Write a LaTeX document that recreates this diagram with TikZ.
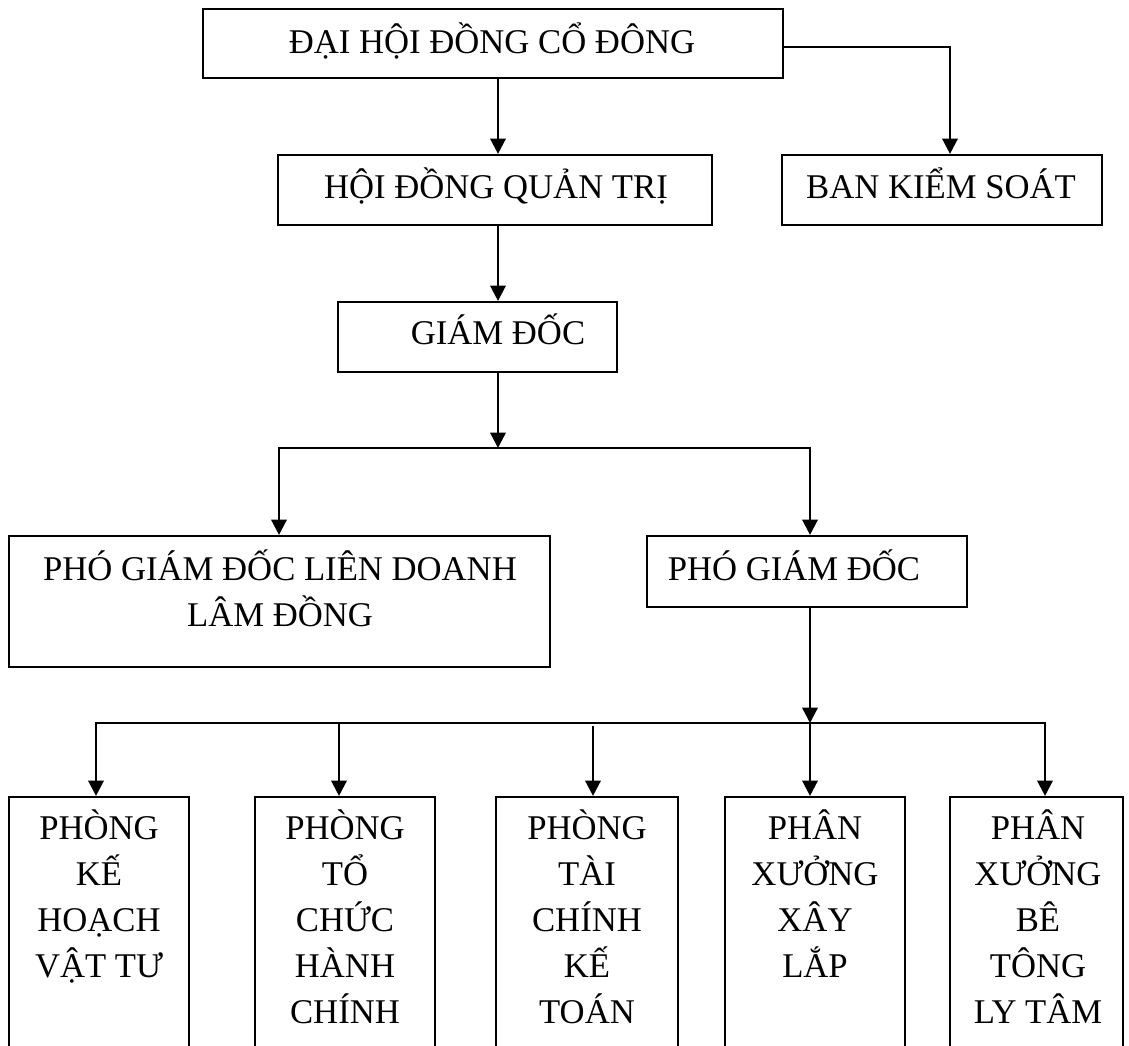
\documentclass[tikz,border=0pt]{standalone}
\usepackage{fontspec}
\setmainfont{Liberation Serif}
\usetikzlibrary{arrows.meta,fit}
\tikzset{
  boxnode/.style={draw, line width=1.6pt, inner sep=0pt, rectangle},
  txt/.style={inner sep=0pt, anchor=base, font=\fontsize{26pt}{34pt}\selectfont},
  arr/.style={line width=1.8pt, -{Triangle[length=11.5pt,width=11.5pt]}}
}
\begin{document}
\begin{tikzpicture}[x=0.75pt,y=-0.75pt]
\useasboundingbox (0,0) rectangle (1129,1046);
\clip (0,0) rectangle (1129,1046);
% boxes
\node[boxnode, fit={(203,9) (783,78)}] (top) {};
\node[boxnode, fit={(278,155) (712,225)}] (hdqt) {};
\node[boxnode, fit={(782,155) (1102,225)}] (bks) {};
\node[boxnode, fit={(338,302) (617,372)}] (gd) {};
\node[boxnode, fit={(9,536) (550,667)}] (pgdld) {};
\node[boxnode, fit={(647,536) (967,607)}] (pgd) {};
\node[boxnode, fit={(9,797) (189,1080)}] (b1) {};
\node[boxnode, fit={(255,797) (435,1080)}] (b2) {};
\node[boxnode, fit={(496,797) (678,1080)}] (b3) {};
\node[boxnode, fit={(725,797) (905,1080)}] (b4) {};
\node[boxnode, fit={(950,797) (1123,1080)}] (b5) {};
% texts
\node[txt] (ttop) at (492,53) {ĐẠI HỘI ĐỒNG CỔ ĐÔNG};
\node[txt] (thdqt) at (496,198) {HỘI ĐỒNG QUẢN TRỊ};
\node[txt] (tbks) at (941,198) {BAN KIỂM SOÁT};
\node[txt] (tgd) at (498,344) {GIÁM ĐỐC};
\node[txt] (tpgd) at (794,580) {PHÓ GIÁM ĐỐC};
\node[txt] (tpgdlda) at (280,580) {PHÓ GIÁM ĐỐC LIÊN DOANH};
\node[txt] (tpgdldb) at (280,626) {LÂM ĐỒNG};
\foreach \t [count=\i] in {PHÒNG,KẾ,HOẠCH,VẬT TƯ}
  \node[txt] (ta\i) at (99,{839+46*(\i-1)}) {\t};
\foreach \t [count=\i] in {PHÒNG,TỔ,CHỨC,HÀNH,CHÍNH}
  \node[txt] (tb\i) at (345,{839+46*(\i-1)}) {\t};
\foreach \t [count=\i] in {PHÒNG,TÀI,CHÍNH,KẾ,TOÁN}
  \node[txt] (tc\i) at (587,{839+46*(\i-1)}) {\t};
\foreach \t [count=\i] in {PHÂN,XƯỞNG,XÂY,LẮP}
  \node[txt] (td\i) at (815,{839+46*(\i-1)}) {\t};
\foreach \t [count=\i] in {PHÂN,XƯỞNG,BÊ,TÔNG,LY TÂM}
  \node[txt] (te\i) at (1038,{839+46*(\i-1)}) {\t};
% connector coordinates
\coordinate (k1) at (950,47);
\coordinate (v1) at (498,0);
\coordinate (bus1) at (498,448);
\coordinate (bl) at (279,448);
\coordinate (br) at (810,448);
\coordinate (bus2) at (810,723);
\coordinate (e1) at (96,723);
\coordinate (e2) at (339,723);
\coordinate (e3) at (593,726);
\coordinate (e5) at (1045,723);
% connectors
\draw[arr] (k1 -| top.east) -- (k1) -- (k1 |- bks.north);
\draw[arr] (v1 |- top.south) -- (v1 |- hdqt.north);
\draw[arr] (v1 |- hdqt.south) -- (v1 |- gd.north);
\draw[arr] (bus1 |- gd.south) -- (bus1);
\draw[arr] (bus1) -- (bl) -- (bl |- pgdld.north);
\draw[arr] (bus1) -- (br) -- (br |- pgd.north);
\draw[arr] (bus2 |- pgd.south) -- (bus2);
\draw[arr] (bus2) -- (e1) -- (e1 |- b1.north);
\draw[arr] (bus2) -- (e5) -- (e5 |- b5.north);
\draw[arr] (e2) -- (e2 |- b2.north);
\draw[arr] (e3) -- (e3 |- b3.north);
\draw[arr] (bus2) -- (bus2 |- b4.north);
\end{tikzpicture}
\end{document}
